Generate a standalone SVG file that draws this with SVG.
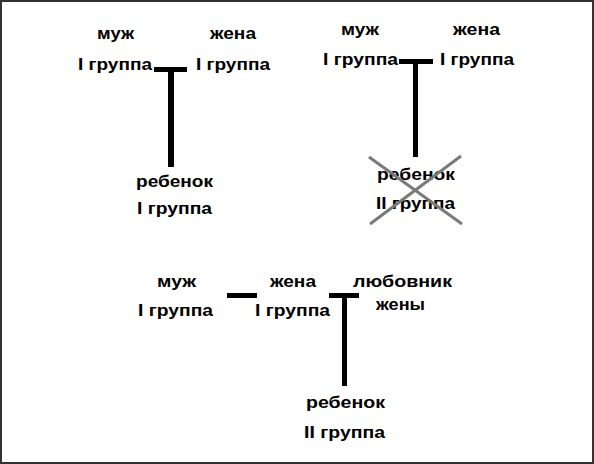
<svg xmlns="http://www.w3.org/2000/svg" width="594" height="464" viewBox="0 0 594 464">
<style>
text{font-family:"Liberation Sans",Arial,sans-serif;font-weight:bold;font-size:17px;fill:#000}
.bar{fill:#000}
.cross{stroke:#7a7a7a;stroke-width:3;fill:none}
</style>
<rect x="1" y="1" width="592" height="462" fill="#fff" stroke="#333" stroke-width="2"/>
<g id="top-left">
<text x="97" y="39" textLength="37" lengthAdjust="spacingAndGlyphs">муж</text>
<text x="210" y="39" textLength="46" lengthAdjust="spacingAndGlyphs">жена</text>
<text x="78" y="69.5" textLength="74" lengthAdjust="spacingAndGlyphs">I группа</text>
<text x="196" y="69.5" textLength="74" lengthAdjust="spacingAndGlyphs">I группа</text>
<text x="136" y="187" textLength="77" lengthAdjust="spacingAndGlyphs">ребенок</text>
<text x="137" y="213.5" textLength="75" lengthAdjust="spacingAndGlyphs">I группа</text>
</g>
<g id="top-right">
<text x="341" y="35" textLength="38" lengthAdjust="spacingAndGlyphs">муж</text>
<text x="453" y="35" textLength="47" lengthAdjust="spacingAndGlyphs">жена</text>
<text x="323" y="65" textLength="75" lengthAdjust="spacingAndGlyphs">I группа</text>
<text x="440" y="65" textLength="74" lengthAdjust="spacingAndGlyphs">I группа</text>
<text x="377" y="180" textLength="78" lengthAdjust="spacingAndGlyphs">ребенок</text>
<text x="376" y="209" textLength="79" lengthAdjust="spacingAndGlyphs">II группа</text>
</g>
<g id="bottom">
<text x="157" y="287" textLength="39" lengthAdjust="spacingAndGlyphs">муж</text>
<text x="270" y="287" textLength="46" lengthAdjust="spacingAndGlyphs">жена</text>
<text x="353" y="287" textLength="99" lengthAdjust="spacingAndGlyphs">любовник</text>
<text x="138" y="316" textLength="75" lengthAdjust="spacingAndGlyphs">I группа</text>
<text x="255" y="316" textLength="75" lengthAdjust="spacingAndGlyphs">I группа</text>
<text x="376" y="310" textLength="49" lengthAdjust="spacingAndGlyphs">жены</text>
<text x="306" y="408" textLength="79" lengthAdjust="spacingAndGlyphs">ребенок</text>
<text x="304" y="438" textLength="81" lengthAdjust="spacingAndGlyphs">II группа</text>
</g>
<g id="connectors">
<rect class="bar" x="154" y="67" width="33" height="5"/>
<rect class="bar" x="168" y="67" width="6" height="100"/>
<rect class="bar" x="399" y="59" width="34" height="5"/>
<rect class="bar" x="413" y="59" width="5" height="98"/>
<rect class="bar" x="227" y="293" width="30" height="5"/>
<rect class="bar" x="329" y="293" width="30" height="5"/>
<rect class="bar" x="342" y="293" width="5" height="93"/>
<line class="cross" x1="369" y1="157" x2="462" y2="224"/>
<line class="cross" x1="461" y1="156" x2="370" y2="224"/>
</g>
</svg>
